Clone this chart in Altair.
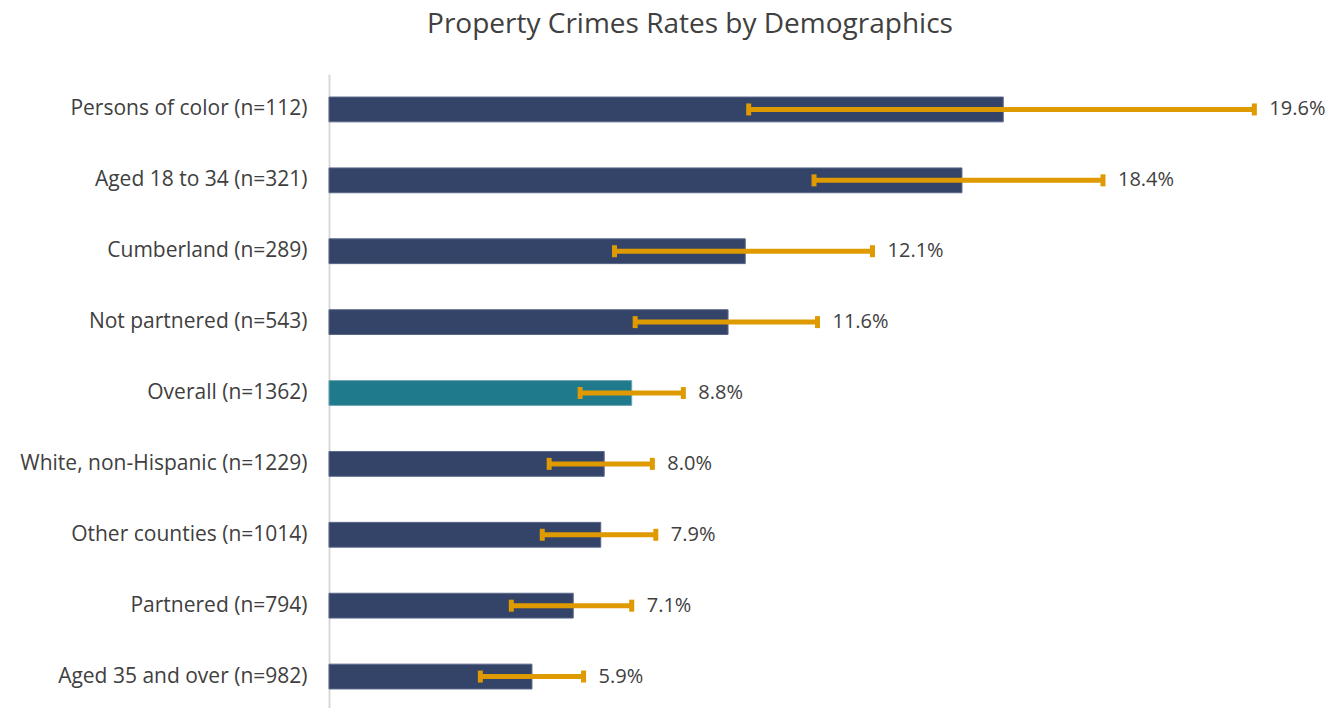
import altair as alt
import pandas as pd

categories = [
    "Persons of color (n=112)",
    "Aged 18 to 34 (n=321)",
    "Cumberland (n=289)",
    "Not partnered (n=543)",
    "Overall (n=1362)",
    "White, non-Hispanic (n=1229)",
    "Other counties (n=1014)",
    "Partnered (n=794)",
    "Aged 35 and over (n=982)",
]
rates = [19.6, 18.4, 12.1, 11.6, 8.8, 8.0, 7.9, 7.1, 5.9]
ci_low = [12.2, 14.1, 8.3, 8.9, 7.3, 6.4, 6.2, 5.3, 4.4]
ci_high = [26.9, 22.5, 15.8, 14.2, 10.3, 9.4, 9.5, 8.8, 7.4]
groups = ["Subgroup", "Subgroup", "Subgroup", "Subgroup", "Overall",
          "Subgroup", "Subgroup", "Subgroup", "Subgroup"]

df = pd.DataFrame({
    "cat": categories,
    "rate": rates,
    "lo": ci_low,
    "hi": ci_high,
    "grp": groups,
})
df["label"] = df["rate"].map(lambda v: f"{v:.1f}%")

FONT = "Open Sans"
TXT = "#404040"

y_enc = alt.Y(
    "cat:N",
    sort=categories,
    title=None,
    scale=alt.Scale(paddingInner=0.65, paddingOuter=0.325),
    axis=alt.Axis(
        ticks=False, grid=False, domainColor="#D9D9D9", domainWidth=2,
        labelFont=FONT, labelFontSize=21, labelColor=TXT, labelPadding=22,
        labelLimit=400,
    ),
)
x_scale = alt.Scale(domain=[0, 29.07], nice=False, zero=True)
x_enc = alt.X("rate:Q", scale=x_scale, axis=None, title=None)

base = alt.Chart(df)

bars = base.mark_bar(strokeWidth=1).encode(
    y=y_enc,
    x=x_enc,
    color=alt.Color("grp:N", scale=alt.Scale(domain=["Subgroup", "Overall"],
                                              range=["#344469", "#1F7A8C"]), legend=None),
    stroke=alt.Stroke("grp:N", scale=alt.Scale(domain=["Subgroup", "Overall"],
                                                range=["#5A6789", "#6FA3B3"]), legend=None),
)

err = base.mark_rule(color="#DE9A00", strokeWidth=5).encode(
    y=alt.Y("cat:N", sort=categories),
    x=alt.X("lo:Q", scale=x_scale, axis=None),
    x2="hi:Q",
)
cap_lo = base.mark_tick(color="#DE9A00", orient="vertical", thickness=5, size=12, opacity=1).encode(
    y=alt.Y("cat:N", sort=categories),
    x=alt.X("lo:Q", scale=x_scale, axis=None),
)
cap_hi = base.mark_tick(color="#DE9A00", orient="vertical", thickness=5, size=12, opacity=1).encode(
    y=alt.Y("cat:N", sort=categories),
    x=alt.X("hi:Q", scale=x_scale, axis=None),
)
labels = base.mark_text(align="left", baseline="middle", dx=15, font=FONT,
                        fontSize=20, color=TXT).encode(
    y=alt.Y("cat:N", sort=categories),
    x=alt.X("hi:Q", scale=x_scale, axis=None),
    text="label:N",
)

chart = alt.layer(bars, err, cap_lo, cap_hi, labels).properties(
    width=1000,
    height=638,
    title=alt.TitleParams(
        "Property Crimes Rates by Demographics",
        font=FONT, fontSize=28, fontWeight="normal", color=TXT,
        anchor="middle", frame="group", dx=-139, offset=35,
    ),
    autosize=alt.AutoSizeParams(type="none"),
    padding={"left": 321, "top": 66, "right": 6, "bottom": 0},
).configure_view(stroke=None)

chart.save("out.html", embed_options={"renderer": "svg", "actions": False})
